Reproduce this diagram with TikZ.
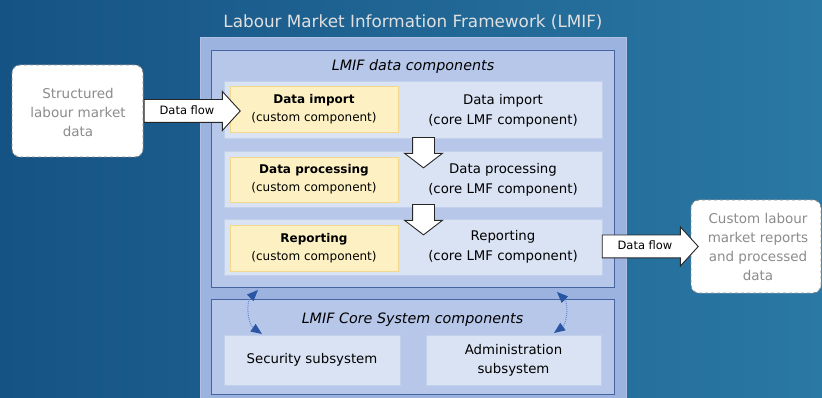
\documentclass[tikz,border=0pt]{standalone}
\usepackage{fontspec}
\setmainfont{DejaVu Sans}
\usepackage{tikz}
\usetikzlibrary{calc,shapes.arrows,arrows.meta}

\definecolor{bgleft}{HTML}{165385}
\definecolor{bgright}{HTML}{2A78A4}
\definecolor{framefill}{HTML}{9CB2DF}
\definecolor{boxfill}{HTML}{B7C7EA}
\definecolor{boxline}{HTML}{46649F}
\definecolor{rowfill}{HTML}{DAE3F4}
\definecolor{rowline}{HTML}{C3D0EC}
\definecolor{custfill}{HTML}{FDF1C3}
\definecolor{custline}{HTML}{F2D88C}
\definecolor{linkhead}{HTML}{2A55A3}
\definecolor{linkdot}{HTML}{6A8AD0}
\definecolor{srcgray}{HTML}{8C8C8C}

\begin{document}
\begin{tikzpicture}[x=1pt,y=-1pt]
    \useasboundingbox (0,0) rectangle (822,398);
    \shade[left color=bgleft,right color=bgright] (0,0) rectangle (822,398);

    \tikzset{
        panel/.style={draw=boxline,fill=boxfill,line width=0.9pt,inner sep=0pt,outer sep=0pt},
        rowbox/.style={draw=rowline,fill=rowfill,line width=0.8pt,inner sep=0pt,outer sep=0pt,minimum width=378pt},
        custbox/.style={draw=custline,fill=custfill,line width=0.8pt,align=center,outer sep=0pt,
            minimum width=168pt,font=\fontsize{12}{18}\selectfont},
        corelbl/.style={align=center,font=\fontsize{13.3}{20}\selectfont},
        endbox/.style={draw=black!45,dashed,line width=0.9pt,fill=white,rounded corners=8pt,inner sep=0pt},
        endtext/.style={align=center,text=srcgray,font=\fontsize{13.5}{19}\selectfont},
        flowarrow/.style={single arrow,draw=black!85,fill=white,line width=0.9pt,
            single arrow head extend=8pt,single arrow tip angle=95,minimum height=96pt,
            inner xsep=6pt,inner ysep=6.5pt,text height=8pt,text depth=1pt,font=\fontsize{11.5}{13}\selectfont},
        downarrow/.style={single arrow,shape border rotate=270,draw=black!85,fill=white,line width=0.9pt,
            single arrow head extend=8pt,single arrow tip angle=105,minimum height=25pt,inner sep=10.5pt},
        syslink/.style={densely dotted,line width=1pt,draw=linkdot,
            {Triangle[length=11pt,width=9pt,color=linkhead]}-{Triangle[length=11pt,width=9pt,color=linkhead]}},
        subsys/.style={rowbox,minimum width=176pt,minimum height=50pt,align=center,font=\fontsize{13.3}{19}\selectfont}
    }

    \node[text=white!88!black,font=\fontsize{16.8}{20}\selectfont] (title) at (413,22) {Labour Market Information Framework (LMIF)};

    \node[draw=framefill!80!white,fill=framefill,inner sep=0pt,minimum width=426pt,minimum height=365pt] (frame) at (413,219.5) {};

    \node[panel,minimum width=403pt,minimum height=237pt] (datab) at (412.5,168.5) {};
    \node[font=\fontsize{14.3}{17}\selectfont\itshape] (datatitle) at (413,67) {LMIF data components};

    \node[rowbox,minimum height=57pt] (row1) at (413,109.5) {};
    \node[rowbox,minimum height=56pt] (row2) at (413,179) {};
    \node[rowbox,minimum height=56pt] (row3) at (413,247) {};

    \node[custbox,minimum height=46pt] (imp) at (314,109) {\textbf{Data import}\\(custom component)};
    \node[custbox,minimum height=45pt] (proc) at (314,179.5) {\textbf{Data processing}\\(custom component)};
    \node[custbox,minimum height=46pt] (rep) at (314,248) {\textbf{Reporting}\\(custom component)};

    \node[corelbl] (impcore) at (503,111) {Data import\\(core LMF component)};
    \node[corelbl] (proccore) at (503,180) {Data processing\\(core LMF component)};
    \node[corelbl] (repcore) at (503,247) {Reporting\\(core LMF component)};

    \node[downarrow] (down1) at (423.5,148.5) {};
    \node[downarrow] (down2) at (423.5,215.5) {};

    \node[panel,minimum width=403pt,minimum height=95pt] (coreb) at (412.5,346.5) {};
    \node[font=\fontsize{14.3}{17}\selectfont\itshape] (coretitle) at (412.5,320) {LMIF Core System components};

    \node[subsys] (secsub) at (312,360) {Security subsystem};
    \node[subsys,minimum width=175pt] (adminsub) at (513.5,360) {Administration\\subsystem};

    \draw[syslink] ($(datab.south west)+(47,3)$) to[bend right=50] ($(secsub.north west)+(38,-1)$);
    \draw[syslink] ($(datab.south east)+(-57,5)$) to[bend left=50] ($(adminsub.north east)+(-47,-2)$);

    \node[endbox,minimum width=131pt,minimum height=92pt] (src) at (77.5,111) {};
    \node[endtext] (srctext) at (78,112) {Structured\\labour market\\data};

    \node[endbox,minimum width=130pt,minimum height=93pt] (dest) at (756,246.5) {};
    \node[endtext] (desttext) at (758,247) {Custom labour\\market reports\\and processed\\data};

    \node[flowarrow] (flowin) at (187,111) {Data flow};
    \node[flowarrow] (flowout) at (645,246.5) {Data flow};
\end{tikzpicture}
\end{document}
